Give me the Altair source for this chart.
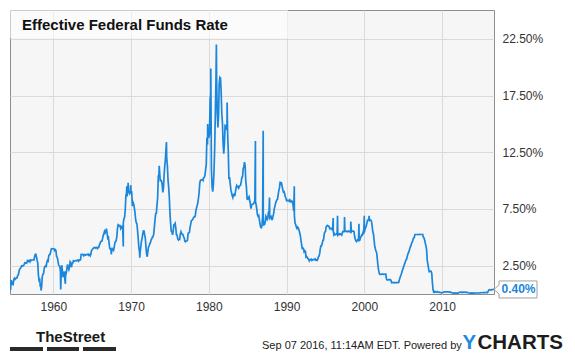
import altair as alt
import pandas as pd

# ---------------- data (monthly effective fed funds rate, %) ----------
start_year = 1954
start_month = 7  # first value = Jul 1954

rates_1950s = [0.35, 1.22, 1.06, 0.85, 0.83, 1.28,
               1.39, 1.29, 1.35, 1.43, 1.43, 1.64, 1.68, 1.96, 2.18, 2.24, 2.35, 2.48,
               2.45, 2.50, 2.50, 2.62, 2.75, 2.71, 2.75, 2.73, 2.95, 2.96, 2.88, 2.94,
               2.84, 3.00, 2.96, 3.00, 3.00, 3.00, 2.99, 3.24, 3.47, 3.50, 3.28, 2.98,
               2.72, 1.67, 1.20, 1.26, 0.63, 0.93, 0.68, 1.53, 1.76, 1.80, 2.27, 2.42,
               2.48, 2.43, 2.80, 2.96, 2.90, 3.39, 3.47, 3.50, 3.76, 3.98, 4.00, 3.99]
rates_1960s = [3.99, 3.97, 3.84, 3.92, 3.85, 3.32, 3.23, 2.98, 2.60, 2.47, 2.44, 1.98,
               1.45, 2.54, 2.02, 1.49, 1.98, 1.73, 1.17, 2.00, 1.88, 2.26, 2.61, 2.33,
               2.15, 2.37, 2.85, 2.78, 2.36, 2.68, 2.71, 2.93, 2.90, 2.90, 2.94, 2.93,
               2.92, 3.00, 2.98, 2.90, 3.00, 2.99, 3.02, 3.49, 3.48, 3.50, 3.48, 3.38,
               3.48, 3.48, 3.43, 3.47, 3.50, 3.50, 3.42, 3.50, 3.45, 3.36, 3.52, 3.85,
               3.90, 3.98, 4.04, 4.09, 4.10, 4.04, 4.09, 4.12, 4.01, 4.08, 4.10, 4.32,
               4.42, 4.60, 4.65, 4.67, 4.90, 5.17, 5.30, 5.53, 5.40, 5.53, 5.76, 5.40,
               4.94, 5.00, 4.53, 4.05, 3.94, 3.98, 3.79, 3.90, 3.99, 3.88, 4.13, 4.51,
               4.61, 4.71, 5.05, 5.76, 6.11, 6.07, 6.02, 6.03, 5.78, 5.91, 5.82, 6.02,
               6.30, 6.61, 6.79, 7.41, 8.67, 8.90, 8.61, 9.19, 9.15, 9.00, 8.85, 8.97]
rates_1970s = [8.98, 8.98, 7.76, 8.10, 7.95, 7.61, 7.21, 6.61, 6.29, 6.20, 5.60, 4.90,
               4.14, 3.72, 3.71, 4.16, 4.63, 4.91, 5.31, 5.56, 5.55, 5.20, 4.91, 4.14,
               3.50, 3.29, 3.83, 4.17, 4.27, 4.46, 4.55, 4.80, 4.87, 5.04, 5.06, 5.33,
               5.94, 6.58, 7.09, 7.12, 7.84, 8.49, 10.40, 10.50, 10.78, 10.01, 10.03, 9.95,
               9.65, 8.97, 9.35, 10.51, 11.31, 11.93, 12.92, 12.01, 11.34, 10.06, 9.45, 8.53,
               7.13, 6.24, 5.54, 5.49, 5.22, 5.55, 6.10, 6.14, 6.24, 5.82, 5.22, 5.20,
               4.87, 4.77, 4.84, 4.82, 5.29, 5.48, 5.31, 5.29, 5.25, 5.03, 4.95, 4.65,
               4.61, 4.68, 4.69, 4.73, 5.35, 5.39, 5.42, 5.90, 6.14, 6.47, 6.51, 6.56,
               6.70, 6.78, 6.79, 6.89, 7.36, 7.60, 7.81, 8.04, 8.45, 8.96, 9.76, 10.03,
               10.07, 10.06, 10.09, 10.01, 10.24, 10.29, 10.47, 10.94, 11.43, 13.77, 13.18, 13.78]
rates_1980s = [13.82, 14.13, 17.19, 17.61, 10.98, 9.47, 9.03, 9.61, 10.87, 12.81, 15.85, 18.90,
               19.08, 15.93, 14.70, 15.72, 18.52, 19.10, 19.04, 17.82, 15.87, 15.08, 13.31, 12.37,
               13.22, 14.78, 14.68, 14.94, 14.45, 14.15, 12.59, 10.12, 10.31, 9.71, 9.20, 8.95,
               8.68, 8.51, 8.77, 8.80, 8.63, 8.98, 9.37, 9.56, 9.45, 9.48, 9.34, 9.47,
               9.56, 9.59, 9.91, 10.29, 10.32, 11.06, 11.23, 11.64, 11.30, 9.99, 9.43, 8.38,
               8.35, 8.50, 8.58, 8.27, 7.97, 7.53, 7.88, 7.90, 7.92, 7.99, 8.05, 8.27,
               8.14, 7.86, 7.48, 6.99, 6.85, 6.92, 6.56, 6.17, 5.89, 5.85, 6.04, 6.91,
               6.43, 6.10, 6.13, 6.37, 6.85, 6.73, 6.58, 6.73, 7.22, 7.29, 6.69, 6.77,
               6.83, 6.58, 6.58, 6.87, 7.09, 7.51, 7.75, 8.01, 8.19, 8.30, 8.35, 8.76,
               9.12, 9.36, 9.85, 9.84, 9.81, 9.53, 9.24, 8.99, 9.02, 8.84, 8.55, 8.45]
rates_1990s = [8.23, 8.24, 8.28, 8.26, 8.18, 8.29, 8.15, 8.13, 8.20, 8.11, 7.81, 7.31,
               6.91, 6.25, 6.12, 5.91, 5.78, 5.90, 5.82, 5.66, 5.45, 5.21, 4.81, 4.43,
               4.03, 4.06, 3.98, 3.73, 3.82, 3.76, 3.25, 3.30, 3.22, 3.10, 3.09, 2.92,
               3.02, 3.03, 3.07, 2.96, 3.00, 3.04, 3.06, 3.03, 3.09, 2.99, 3.02, 2.96,
               3.05, 3.25, 3.34, 3.56, 4.01, 4.25, 4.26, 4.47, 4.73, 4.76, 5.29, 5.45,
               5.53, 5.92, 5.98, 6.05, 6.01, 6.00, 5.85, 5.74, 5.80, 5.76, 5.80, 5.60,
               5.56, 5.22, 5.31, 5.22, 5.24, 5.27, 5.40, 5.22, 5.30, 5.24, 5.31, 5.29,
               5.25, 5.19, 5.39, 5.51, 5.50, 5.56, 5.52, 5.54, 5.54, 5.50, 5.52, 5.50,
               5.56, 5.51, 5.49, 5.45, 5.49, 5.56, 5.54, 5.55, 5.51, 5.07, 4.83, 4.68,
               4.63, 4.76, 4.81, 4.74, 4.74, 4.76, 4.99, 5.07, 5.22, 5.20, 5.42, 5.30]
rates_2000s = [5.45, 5.73, 5.85, 6.02, 6.27, 6.53, 6.54, 6.50, 6.52, 6.51, 6.51, 6.40,
               5.98, 5.49, 5.31, 4.80, 4.21, 3.97, 3.77, 3.65, 3.07, 2.49, 2.09, 1.82,
               1.73, 1.74, 1.73, 1.75, 1.75, 1.75, 1.73, 1.74, 1.75, 1.75, 1.34, 1.24,
               1.24, 1.26, 1.25, 1.26, 1.26, 1.22, 1.01, 1.03, 1.01, 1.01, 1.00, 0.98,
               1.00, 1.01, 1.00, 1.00, 1.00, 1.03, 1.26, 1.43, 1.61, 1.76, 1.93, 2.16,
               2.28, 2.50, 2.63, 2.79, 3.00, 3.04, 3.26, 3.50, 3.62, 3.78, 4.00, 4.16,
               4.29, 4.49, 4.59, 4.79, 4.94, 4.99, 5.24, 5.25, 5.25, 5.25, 5.25, 5.24,
               5.25, 5.26, 5.26, 5.25, 5.25, 5.25, 5.26, 5.02, 4.94, 4.76, 4.49, 4.24,
               3.94, 2.98, 2.61, 2.28, 1.98, 2.00, 2.01, 2.00, 1.81, 0.97, 0.39, 0.16,
               0.15, 0.22, 0.18, 0.15, 0.18, 0.21, 0.16, 0.16, 0.15, 0.12, 0.12, 0.12]
rates_2010s = [0.11, 0.13, 0.16, 0.20, 0.20, 0.18, 0.18, 0.19, 0.19, 0.19, 0.19, 0.18,
               0.17, 0.16, 0.14, 0.10, 0.09, 0.09, 0.07, 0.10, 0.08, 0.07, 0.08, 0.07,
               0.08, 0.10, 0.13, 0.14, 0.16, 0.16, 0.16, 0.13, 0.14, 0.16, 0.16, 0.16,
               0.14, 0.15, 0.14, 0.15, 0.11, 0.09, 0.09, 0.08, 0.08, 0.09, 0.08, 0.09,
               0.07, 0.07, 0.08, 0.09, 0.09, 0.10, 0.09, 0.09, 0.09, 0.09, 0.09, 0.12,
               0.11, 0.11, 0.11, 0.12, 0.12, 0.13, 0.13, 0.14, 0.14, 0.12, 0.12, 0.24,
               0.34, 0.38, 0.36, 0.37, 0.37, 0.38, 0.39, 0.40, 0.40]

# short-lived daily/weekly spikes visible in the chart
spike_years = [1958.42, 1960.95, 1961.55, 1967.45, 1969.00, 1969.45, 1969.62, 1969.95,
               1971.12, 1973.62, 1974.55, 1979.85, 1980.25, 1980.97, 1982.35,
               1985.99, 1986.99, 1987.80, 1990.99,
               1995.99, 1996.55, 1997.45, 1998.25, 1999.30, 1999.99, 2000.60]
spike_values = [0.30, 0.40, 0.90, 3.50, 4.20, 9.50, 9.80, 9.60,
                3.20, 11.30, 13.40, 15.00, 19.90, 22.00, 16.90,
                13.50, 14.40, 8.50, 9.50,
                6.70, 6.90, 6.80, 6.40, 6.20, 6.90, 6.90]

tick_years = [1960, 1970, 1980, 1990, 2000, 2010]
tick_rates = [2.5, 7.5, 12.5, 17.5, 22.5]
last_rate = 0.40
last_label = "0.40%"
chart_title = "Effective Federal Funds Rate"
footer_text = "Sep 07 2016, 11:14AM EDT.  Powered by"
brand_left = "TheStreet"

# ---------------- build table ----------------
monthly = rates_1950s + rates_1960s + rates_1970s + rates_1980s + rates_1990s + rates_2000s + rates_2010s
t_monthly = [start_year + (start_month - 1 + i) / 12.0 for i in range(len(monthly))]
df = pd.DataFrame({"t": t_monthly + spike_years, "v": monthly + spike_values})
df = df.sort_values("t").reset_index(drop=True)

BLUE = "#1a86dc"
FONT = "Liberation Sans"
W, H = 484, 284

xscale = alt.Scale(domain=[1954.43, 2016.67], nice=False, zero=False)
yscale = alt.Scale(domain=[0, 25.05], nice=False, zero=False)

one = alt.Data(values=[{"a": 1}])

line = alt.Chart(df).mark_line(color=BLUE, strokeWidth=1.7, clip=True).encode(
    x=alt.X("t:Q", scale=xscale,
            axis=alt.Axis(values=tick_years, format="d", title=None, grid=True,
                          gridColor="#dadada", tickSize=0, domain=False, labelPadding=7,
                          labelFontSize=12, labelColor="#333333", labelFont=FONT)),
    y=alt.Y("v:Q", scale=yscale,
            axis=alt.Axis(orient="right", values=tick_rates, title=None, grid=True,
                          gridColor="#dadada", tickSize=0, domain=False, labelPadding=8,
                          labelExpr="format(datum.value, '.2f') + '%'",
                          labelFontSize=12, labelColor="#333333", labelFont=FONT)),
)

title_box = alt.Chart(one).mark_rect(fill="#ffffff", opacity=0.55).encode(
    x=alt.value(0), x2=alt.value(278), y=alt.value(0), y2=alt.value(28)
)
title_txt = alt.Chart(one).mark_text(
    text=chart_title, font=FONT, fontSize=15, fontWeight="bold", color="#111111",
    align="left", baseline="alphabetic"
).encode(x=alt.value(12), y=alt.value(19.5))

last_df = pd.DataFrame({"v": [last_rate], "label": [last_label]})
callout_path = "M0,0 L5,-4.5 L5,-8.5 L43,-8.5 L43,8.5 L5,8.5 L5,4.5 Z"
callout = alt.Chart(last_df).mark_point(
    shape=callout_path, size=4, filled=True, fill="#ffffff", stroke="#a0a0a0",
    strokeWidth=1, opacity=1
).encode(x=alt.value(W), y=alt.Y("v:Q", scale=yscale))
callout_txt = alt.Chart(last_df).mark_text(
    font=FONT, fontSize=12, fontWeight="bold", color=BLUE, align="center", baseline="middle"
).encode(x=alt.value(W + 24.5), y=alt.Y("v:Q", scale=yscale), text="label:N")

footer = alt.Chart(one).mark_text(
    text=footer_text, font=FONT, fontSize=11, color="#222222", align="left",
    baseline="alphabetic"
).encode(x=alt.value(252), y=alt.value(339))
ych_y = alt.Chart(one).mark_text(
    text="Y", font=FONT, fontSize=20.5, fontWeight="bold", color="#1e8be3", align="left",
    baseline="alphabetic"
).encode(x=alt.value(452.5), y=alt.value(338.5))
ych_rest = alt.Chart(one).mark_text(
    text="CHARTS", font=FONT, fontSize=20.5, fontWeight="bold", color="#1c1c1c",
    align="left", baseline="alphabetic"
).encode(x=alt.value(467.5), y=alt.value(338.5))
street = alt.Chart(one).mark_text(
    text=brand_left, font=FONT, fontSize=15, fontWeight="bold",
    color="#1a1a1a", align="left", baseline="alphabetic"
).encode(x=alt.value(26), y=alt.value(332))

bars_df = pd.DataFrame({"x0": [0, 37, 73], "x1": [33, 69, 106]})
bars = alt.Chart(bars_df).mark_rect(color="#2a2a2a").encode(
    x=alt.X("x0:Q", scale=None), x2="x1:Q", y=alt.value(337), y2=alt.value(341)
)

chart = alt.layer(
    line, title_box, title_txt, callout, callout_txt, footer, ych_y, ych_rest, street, bars
).properties(
    width=W, height=H,
    padding={"left": 2, "top": 2, "right": 73, "bottom": 64},
    autosize=alt.AutoSizeParams(type="none"),
    background="#ffffff",
).configure_view(
    fill="#f6f6f6", stroke="#8e8e8e", strokeWidth=1
)

chart.save("out.html", embed_options={"renderer": "svg", "actions": False})
